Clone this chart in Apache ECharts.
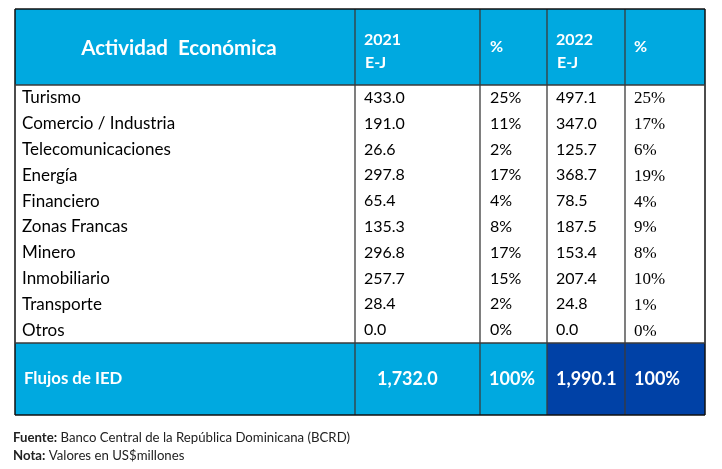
<!DOCTYPE html>
<html><head><meta charset="utf-8">
<script src="https://cdn.jsdelivr.net/npm/echarts@6/dist/echarts.min.js"></script>
<style>html,body{margin:0;padding:0;background:#fff}#c{width:722px;height:469px}</style>
</head><body><div id="c"></div>
<script>
// ---- data ----
const headers = ['Actividad  Económica', '2021', '%', '2022', '%'];
const headerSub = ['', 'E-J', '', 'E-J', ''];
const categories = ['Turismo','Comercio / Industria','Telecomunicaciones','Energía','Financiero','Zonas Francas','Minero','Inmobiliario','Transporte','Otros'];
const values2021 = [433.0,191.0,26.6,297.8,65.4,135.3,296.8,257.7,28.4,0.0];
const share2021 = [25,11,2,17,4,8,17,15,2,0];
const values2022 = [497.1,347.0,125.7,368.7,78.5,187.5,153.4,207.4,24.8,0.0];
const share2022 = [25,17,6,19,4,9,8,10,1,0];
const totalLabel = 'Flujos de IED';
const total2021 = 1732.0;
const total2022 = 1990.1;
const totalShare2021 = 100;
const totalShare2022 = 100;
const sourceText = 'Banco Central de la República Dominicana (BCRD)';
const noteText = 'Valores en US$millones';

// ---- layout (axis units) ----
const colEdges = [0, 340, 465, 532, 610, 690];
const headerH = 76, rowH = 25.8, footerH = 72;
const bodyTop = headerH, footerTop = headerH + rowH * categories.length, totalH = footerTop + footerH;
const padX = [7, 9, 10, 9, 9];
const footPadX = [9, 22, 9, 9, 9];
const LIGHT = '#00A9E0', DARK = '#0041A6';
const SANS = 'Lato, "Open Sans", sans-serif';

const fmt1 = v => v.toFixed(1);
const fmtTot = v => v.toLocaleString('en-US', {minimumFractionDigits: 1, maximumFractionDigits: 1});

// build cell list: [col, rowIndex, kind]  kind: 0 header, 1 body, 2 footer
const cells = [];
for (let c = 0; c < 5; c++) cells.push([c, -1, 0]);
categories.forEach((_, i) => { for (let c = 0; c < 5; c++) cells.push([c, i, 1]); });
for (let c = 0; c < 5; c++) cells.push([c, categories.length, 2]);

function bodyText(c, i) {
  if (c === 0) return categories[i];
  if (c === 1) return fmt1(values2021[i]);
  if (c === 2) return share2021[i] + '%';
  if (c === 3) return fmt1(values2022[i]);
  return share2022[i] + '%';
}
function footText(c) {
  return [totalLabel, fmtTot(total2021), totalShare2021 + '%', fmtTot(total2022), totalShare2022 + '%'][c];
}

function renderCell(params, api) {
  const c = api.value(0), r = api.value(1), kind = api.value(2);
  let y0, y1;
  if (kind === 0) { y0 = 0; y1 = headerH; }
  else if (kind === 1) { y0 = bodyTop + r * rowH; y1 = y0 + rowH; }
  else { y0 = footerTop; y1 = totalH; }
  const p0 = api.coord([colEdges[c], y0]);
  const p1 = api.coord([colEdges[c + 1], y1]);
  const rect = {x: p0[0], y: p0[1], width: p1[0] - p0[0], height: p1[1] - p0[1]};
  const children = [];
  let fill = '#fff';
  if (kind === 0) fill = LIGHT;
  if (kind === 2) fill = c >= 3 ? DARK : LIGHT;
  children.push({type: 'rect', shape: rect, style: {fill: fill}});
  const cy = rect.y + rect.height / 2;
  if (kind === 0) {
    if (c === 0) {
      children.push({type: 'text', style: {x: rect.x + rect.width / 2 - 6, y: cy + 1, text: headers[c], fill: '#fff', font: 'bold 20.5px ' + SANS, align: 'center', verticalAlign: 'middle'}});
    } else if (headerSub[c]) {
      children.push({type: 'text', style: {x: rect.x + padX[c], y: rect.y + 31, text: headers[c], fill: '#fff', font: 'bold 16px ' + SANS, align: 'left', verticalAlign: 'middle'}});
      children.push({type: 'text', style: {x: rect.x + padX[c] + 1, y: rect.y + 54, text: headerSub[c], fill: '#fff', font: 'bold 16px ' + SANS, align: 'left', verticalAlign: 'middle'}});
    } else {
      children.push({type: 'text', style: {x: rect.x + padX[c], y: cy, text: headers[c], fill: '#fff', font: 'bold 16px ' + SANS, align: 'left', verticalAlign: 'middle'}});
    }
  } else if (kind === 1) {
    let font = '16px ' + SANS;
    if (c === 0) font = '17px ' + SANS;
    if (c === 4) font = '17px "Liberation Serif", serif';
    children.push({type: 'text', style: {x: rect.x + padX[c], y: cy + (c === 4 ? 1 : 0), text: bodyText(c, r), fill: '#000', font: font, align: 'left', verticalAlign: 'middle'}});
  } else {
    children.push({type: 'text', style: {x: rect.x + footPadX[c], y: cy, text: footText(c), fill: '#fff', font: (c === 0 ? 'bold 16.8px ' : 'bold 18px ') + SANS, align: 'left', verticalAlign: 'middle'}});
  }
  return {type: 'group', children: children};
}

// grid lines: verticals at every column edge, horizontals at section edges
const lines = [];
colEdges.forEach((x, i) => lines.push([x, 0, x, totalH, i === 0 || i === colEdges.length - 1 ? 1 : 0]));
[0, headerH, footerTop, totalH].forEach((y, i) => lines.push([0, y, 690, y, i === 0 || i === 3 ? 1 : 0]));

function renderLine(params, api) {
  const a = api.coord([api.value(0), api.value(1)]);
  const b = api.coord([api.value(2), api.value(3)]);
  const outer = api.value(4) === 1;
  return {type: 'line', shape: {x1: a[0], y1: a[1], x2: b[0], y2: b[1]}, style: {stroke: outer ? '#111' : '#3a3a3a', lineWidth: outer ? 1.5 : 1.3}};
}

const chart = echarts.init(document.getElementById('c'), null, {renderer: 'canvas'});
chart.setOption({
  animation: false,
  backgroundColor: '#fff',
  grid: {left: 15, top: 9, right: 17, bottom: 54},
  xAxis: {type: 'value', min: 0, max: 690, show: false},
  yAxis: {type: 'value', min: 0, max: totalH, inverse: true, show: false},
  graphic: [{
    type: 'text', left: 13, top: 429,
    style: {
      text: '{b|Fuente:} ' + sourceText + '\n{b|Nota:} ' + noteText,
      font: '13.2px ' + SANS, fill: '#222', lineHeight: 18,
      rich: {b: {fontWeight: 'bold', fontSize: 13.2, fontFamily: 'Lato', fill: '#222'}}
    }
  }],
  series: [
    {type: 'custom', renderItem: renderCell, data: cells, z: 1, silent: true, clip: false},
    {type: 'custom', renderItem: renderLine, data: lines, z: 2, silent: true, clip: false}
  ]
});
</script></body></html>
